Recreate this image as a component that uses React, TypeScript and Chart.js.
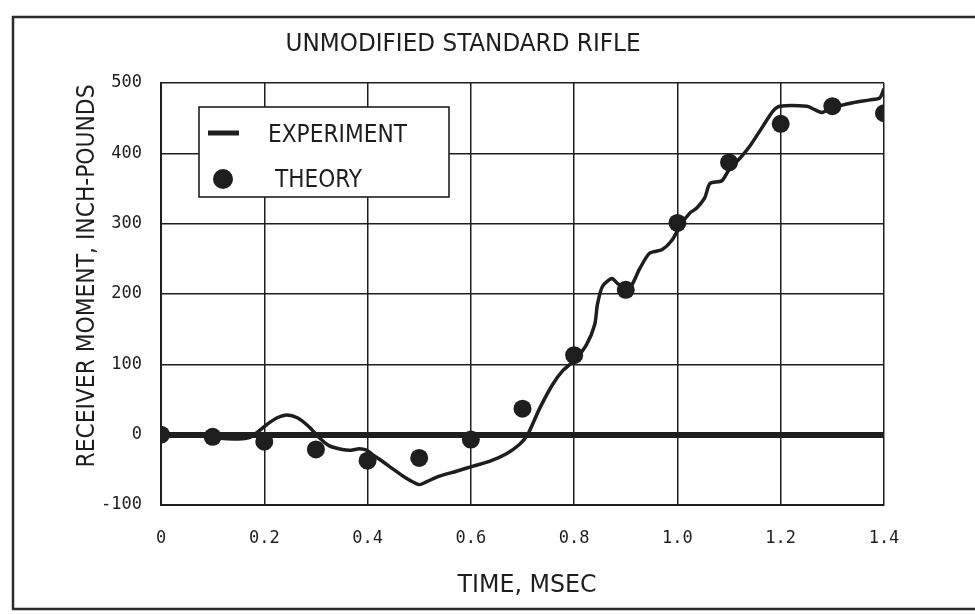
import { useEffect, useRef } from "react";
import { Chart, registerables } from "chart.js";

Chart.register(...registerables);

const CHART_TITLE = "UNMODIFIED STANDARD RIFLE";
const X_TITLE = "TIME, MSEC";
const Y_TITLE = "RECEIVER MOMENT, INCH-POUNDS";
const SERIES_NAMES = ["EXPERIMENT", "THEORY"];

const X_TICK_LABELS = ["0", "0.2", "0.4", "0.6", "0.8", "1.0", "1.2", "1.4"];
const Y_TICK_LABELS = ["-100", "0", "100", "200", "300", "400", "500"];

const EXP_TIME = [
  0, 0.074, 0.103, 0.116, 0.151, 0.171, 0.184, 0.206, 0.225, 0.244, 0.264, 0.287, 0.306, 0.326,
  0.351, 0.368, 0.384, 0.398, 0.409, 0.423, 0.442, 0.475, 0.5, 0.514, 0.539, 0.572, 0.603, 0.636,
  0.669, 0.694, 0.71, 0.733, 0.758, 0.778, 0.801, 0.824, 0.84, 0.845, 0.855, 0.873, 0.884, 0.9,
  0.911, 0.927, 0.946, 0.97, 0.989, 1.008, 1.024, 1.037, 1.053, 1.063, 1.086, 1.101, 1.121, 1.14,
  1.165, 1.185, 1.198, 1.251, 1.266, 1.28, 1.301, 1.34, 1.373, 1.392, 1.4,
];
const EXP_MOMENT = [
  0, 0, -1, -5, -6, -4, 2, 15, 24, 28, 24, 11, -4, -16,
  -21, -22, -20, -22, -28, -35, -45, -62, -71, -67, -59, -52, -45, -38,
  -27, -14, 0, 37, 71, 91, 106, 128, 157, 185, 211, 222, 215, 208,
  212, 236, 258, 263, 276, 300, 315, 322, 337, 357, 361, 378, 393, 410,
  438, 460, 467, 467, 462, 458, 465, 472, 476, 479, 492,
];

const THEORY_TIME = [0, 0.1, 0.2, 0.3, 0.4, 0.5, 0.6, 0.7, 0.8, 0.9, 1.0, 1.1, 1.2, 1.3, 1.4];
const THEORY_MOMENT = [0, -3, -10, -21, -37, -33, -7, 37, 113, 206, 301, 387, 442, 467, 457];

const INK = "#1e1e1e";
const TEXT_FONT = "'Liberation Sans Narrow', 'DejaVu Sans Condensed', 'Liberation Sans', sans-serif";
const TICK_FONT = "'DejaVu Sans Mono', 'Liberation Mono', monospace";

function fitText(
  ctx: CanvasRenderingContext2D,
  text: string,
  x: number,
  y: number,
  width: number,
  size: number,
  align: "center" | "left",
  rotate = 0
) {
  ctx.save();
  ctx.font = `${size}px ${TEXT_FONT}`;
  const m = ctx.measureText(text).width;
  const s = width / m;
  ctx.translate(x, y);
  if (rotate) ctx.rotate(rotate);
  ctx.scale(s, 1);
  ctx.fillStyle = INK;
  ctx.textAlign = align;
  ctx.textBaseline = "alphabetic";
  ctx.fillText(text, 0, size * 0.36);
  ctx.restore();
}

const decorations = {
  id: "decorations",
  afterDraw(chart: any) {
    const ctx: CanvasRenderingContext2D = chart.ctx;
    // outer frame
    ctx.save();
    ctx.strokeStyle = "#2a2a2a";
    ctx.lineWidth = 2.5;
    ctx.beginPath();
    ctx.moveTo(980, 17);
    ctx.lineTo(13, 17);
    ctx.lineTo(13, 609);
    ctx.lineTo(980, 609);
    ctx.stroke();
    ctx.restore();

    // titles
    fitText(ctx, CHART_TITLE, 463, 42, 355, 25, "center");
    fitText(ctx, X_TITLE, 527, 583, 139, 24, "center");
    fitText(ctx, Y_TITLE, 85, 276, 383, 25, "center", -Math.PI / 2);

    // legend box
    ctx.save();
    ctx.fillStyle = "#ffffff";
    ctx.fillRect(199, 107, 250, 90);
    ctx.strokeStyle = INK;
    ctx.lineWidth = 1.6;
    ctx.strokeRect(199, 107, 250, 90);
    ctx.strokeStyle = INK;
    ctx.lineWidth = 5;
    ctx.beginPath();
    ctx.moveTo(208, 133);
    ctx.lineTo(239, 133);
    ctx.stroke();
    ctx.fillStyle = INK;
    ctx.beginPath();
    ctx.arc(223, 179, 10, 0, Math.PI * 2);
    ctx.fill();
    ctx.restore();
    fitText(ctx, SERIES_NAMES[0], 268, 133, 139, 25, "left");
    fitText(ctx, SERIES_NAMES[1], 275, 178, 87, 25, "left");
  },
};

export default function App() {
  const ref = useRef<HTMLCanvasElement | null>(null);

  useEffect(() => {
    const canvas = ref.current;
    if (!canvas) return;
    const chart = new Chart(canvas, {
      type: "line",
      data: {
        datasets: [
          {
            label: SERIES_NAMES[1],
            data: THEORY_TIME.map((t, i) => ({ x: t, y: THEORY_MOMENT[i] })),
            showLine: false,
            pointRadius: 9,
            pointHoverRadius: 9,
            pointStyle: "circle",
            backgroundColor: INK,
            borderColor: INK,
            borderWidth: 0,
            order: 0,
          },
          {
            label: SERIES_NAMES[0],
            data: EXP_TIME.map((t, i) => ({ x: t, y: EXP_MOMENT[i] })),
            borderColor: INK,
            borderWidth: 3.5,
            pointRadius: 0,
            tension: 0.25,
            fill: false,
            order: 1,
          },
        ],
      },
      options: {
        animation: false,
        responsive: false,
        devicePixelRatio: 1,
        layout: { padding: { left: 0, top: 83, right: 91, bottom: 70 } },
        plugins: {
          legend: { display: false },
          tooltip: { enabled: false },
          title: { display: false },
        },
        scales: {
          x: {
            type: "linear",
            min: 0,
            max: 1.4,
            afterFit: (s: any) => {
              s.height = 40;
            },
            afterBuildTicks: (s: any) => {
              s.ticks = X_TICK_LABELS.map((l) => ({ value: parseFloat(l) }));
            },
            ticks: {
              callback: (_v: any, i: number) => X_TICK_LABELS[i],
              color: INK,
              padding: 23,
              maxRotation: 0,
              font: { family: TICK_FONT, size: 17 },
            },
            grid: { color: INK, lineWidth: 1.5, drawTicks: false },
            border: { color: INK, width: 2 },
          },
          y: {
            type: "linear",
            min: -100,
            max: 500,
            afterFit: (s: any) => {
              s.width = 161;
            },
            afterBuildTicks: (s: any) => {
              s.ticks = Y_TICK_LABELS.map((l) => ({ value: parseFloat(l) }));
            },
            ticks: {
              callback: (_v: any, i: number) => Y_TICK_LABELS[i],
              color: INK,
              padding: 19,
              font: { family: TICK_FONT, size: 17 },
            },
            grid: {
              color: INK,
              lineWidth: (c: any) => (c.tick && c.tick.value === 0 ? 6 : 1.5),
              drawTicks: false,
            },
            border: { color: INK, width: 2 },
          },
        },
      },
      plugins: [decorations],
    });
    return () => chart.destroy();
  }, []);

  return (
    <div
      style={{
        position: "absolute",
        left: 0,
        top: 0,
        width: 975,
        height: 615,
        background: "#ffffff",
        overflow: "hidden",
      }}
    >
      <canvas ref={ref} width={975} height={615} style={{ width: 975, height: 615, display: "block" }} />
    </div>
  );
}
